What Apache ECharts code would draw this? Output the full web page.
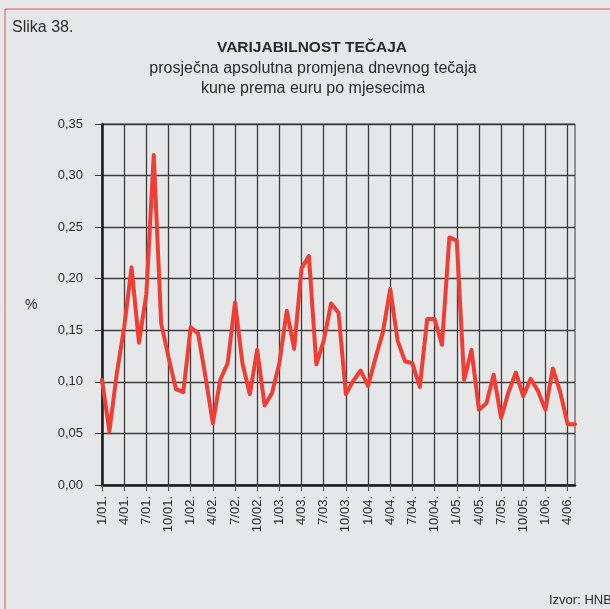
<!DOCTYPE html>
<html>
<head>
<meta charset="utf-8">
<script src="https://cdn.jsdelivr.net/npm/echarts@6/dist/echarts.min.js"></script>
<style>
  html, body { margin: 0; padding: 0; background: #e6e7e9; }
  #chart { width: 610px; height: 609px; }
</style>
</head>
<body>
<div id="chart"></div>
<script>
// months 1/01. .. 5/06.
var years = ['01', '02', '03', '04', '05', '06'];
var lastMonthOf06 = 5;
var months = [];
for (var y = 0; y < years.length; y++) {
  for (var m = 1; m <= 12; m++) {
    if (years[y] === '06' && m > lastMonthOf06) break;
    months.push(m + '/' + years[y] + '.');
  }
}

// average absolute daily change, %
var varijabilnost = [
  0.102, 0.052, 0.108, 0.153, 0.211, 0.138, 0.185, 0.320, 0.157, 0.124, 0.093, 0.090,
  0.153, 0.147, 0.105, 0.060, 0.102, 0.118, 0.177, 0.118, 0.088, 0.131, 0.077, 0.089,
  0.118, 0.169, 0.132, 0.210, 0.222, 0.117, 0.140, 0.176, 0.167, 0.088, 0.101, 0.111,
  0.096, 0.123, 0.148, 0.190, 0.140, 0.120, 0.118, 0.095, 0.161, 0.161, 0.136, 0.240,
  0.237, 0.102, 0.131, 0.073, 0.079, 0.107, 0.065, 0.090, 0.109, 0.086, 0.103, 0.091,
  0.073, 0.113, 0.090, 0.059, 0.059
];

var yTicks = [0, 0.35, 0.05];

var myChart = echarts.init(document.getElementById('chart'), null, { renderer: 'canvas' });

var textColor = '#2b2b2b';
var fontFam = 'Liberation Sans, Arial, Helvetica, sans-serif';

var option = {
  backgroundColor: '#e6e7e9',
  animation: false,
  graphic: [
    {
      type: 'rect',
      shape: { x: 5, y: 9, width: 700, height: 700 },
      style: { fill: 'none', stroke: '#e8524a', lineWidth: 1 }
    },
    {
      type: 'text', x: 12, y: 20,
      style: { text: 'Slika 38.', fill: textColor, font: '16px ' + fontFam }
    },
    {
      type: 'text', x: 312, y: 40,
      style: { text: 'VARIJABILNOST TEČAJA', fill: textColor, font: 'bold 15.5px ' + fontFam, textAlign: 'center' }
    },
    {
      type: 'text', x: 313, y: 61,
      style: { text: 'prosječna apsolutna promjena dnevnog tečaja', fill: textColor, font: '16px ' + fontFam, textAlign: 'center' }
    },
    {
      type: 'text', x: 313, y: 81,
      style: { text: 'kune prema euru po mjesecima', fill: textColor, font: '16px ' + fontFam, textAlign: 'center' }
    },
    {
      type: 'text', x: 25, y: 298,
      style: { text: '%', fill: textColor, font: '14px ' + fontFam }
    },
    {
      type: 'text', x: 549, y: 594,
      style: { text: 'Izvor: HNB', fill: textColor, font: '13px ' + fontFam }
    }
  ],
  grid: {
    left: 102, right: 35, top: 124, bottom: 124,
    show: true,
    borderColor: '#3a3a3a',
    borderWidth: 1
  },
  xAxis: {
    type: 'category',
    data: months,
    boundaryGap: false,
    axisLine: { lineStyle: { color: '#1e1e1e', width: 2.5 } },
    axisTick: { interval: 2, length: 6, lineStyle: { color: '#555', width: 1 } },
    axisLabel: {
      interval: 2, rotate: 90, margin: 11,
      color: textColor, fontSize: 13, fontFamily: fontFam
    },
    splitLine: { show: true, interval: 2, lineStyle: { color: '#3c3c3c', width: 1.3 } }
  },
  yAxis: {
    type: 'value',
    min: yTicks[0], max: yTicks[1], interval: yTicks[2],
    axisLine: { show: true, lineStyle: { color: '#1e1e1e', width: 2.5 } },
    axisTick: { show: true, length: 7, lineStyle: { color: '#333' } },
    axisLabel: {
      margin: 19, color: textColor, fontSize: 13, fontFamily: fontFam,
      formatter: function (v) { return v.toFixed(2).replace('.', ','); }
    },
    splitLine: { show: true, lineStyle: { color: '#3c3c3c', width: 1.3 } }
  },
  series: [
    {
      name: 'Varijabilnost',
      type: 'line',
      data: varijabilnost,
      showSymbol: false,
      symbol: 'none',
      lineStyle: { color: '#f03e35', width: 4, join: 'round', cap: 'round' }
    }
  ]
};

myChart.setOption(option);
window.addEventListener('resize', myChart.resize);
</script>
</body>
</html>
